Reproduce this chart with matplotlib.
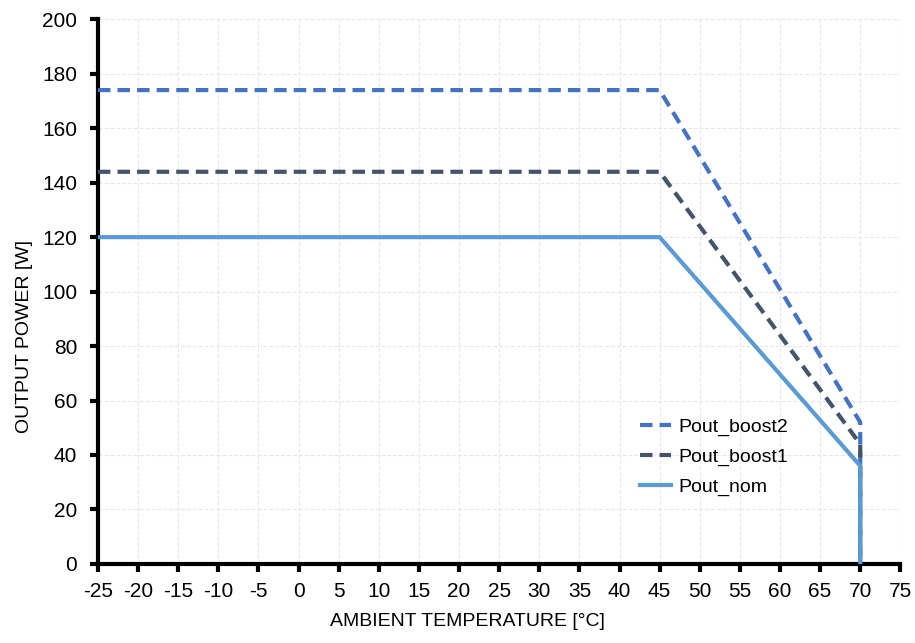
import matplotlib
matplotlib.use("Agg")
import matplotlib.pyplot as plt

# Data
temp = [-25, 45, 70, 70]
pout_boost2 = [174, 174, 52, 0]
pout_boost1 = [144, 144, 44, 0]
pout_nom = [120, 120, 36, 0]

x_ticks = list(range(-25, 80, 5))
y_ticks = list(range(0, 220, 20))

plt.rcParams['font.family'] = ['Liberation Sans', 'DejaVu Sans']
plt.rcParams['axes.unicode_minus'] = False

fig = plt.figure(figsize=(9.15, 6.43), dpi=100)
ax = fig.add_axes([0.107, 0.123, 0.877, 0.847])

ax.plot(temp, pout_boost2, color='#4472c4', linewidth=3, linestyle=(0, (3, 1.7)),
        label='Pout_boost2', zorder=3)
ax.plot(temp, pout_boost1, color='#44546a', linewidth=3, linestyle=(0, (3, 1.7)),
        label='Pout_boost1', zorder=3)
ax.plot(temp, pout_nom, color='#5b9bd5', linewidth=3, label='Pout_nom', zorder=4)

ax.set_xlim(-25, 75)
ax.set_ylim(0, 200)
ax.set_xticks(x_ticks)
ax.set_yticks(y_ticks)
ax.tick_params(labelsize=15, width=3, length=6, direction='out')
ax.tick_params(axis='x', pad=7)
ax.tick_params(axis='y', pad=9)
ax.grid(True, color='#e8e8e8', linestyle='--', linewidth=0.8)
ax.set_axisbelow(True)

for s in ['top', 'right']:
    ax.spines[s].set_visible(False)
for s in ['left', 'bottom']:
    ax.spines[s].set_linewidth(3)

ax.set_xlabel('AMBIENT TEMPERATURE [°C]', fontsize=14)
ax.set_ylabel('OUTPUT POWER [W]', fontsize=14)
ax.xaxis.set_label_coords(0.461, -0.09)
ax.yaxis.set_label_coords(-0.081, 0.417)

ax.legend(loc='center left', bbox_to_anchor=(0.676, 0.196), frameon=False, fontsize=14,
          handlelength=1.55, handletextpad=0.4, labelspacing=0.62,
          borderpad=0, borderaxespad=0)

plt.savefig('out.png', dpi=100)
